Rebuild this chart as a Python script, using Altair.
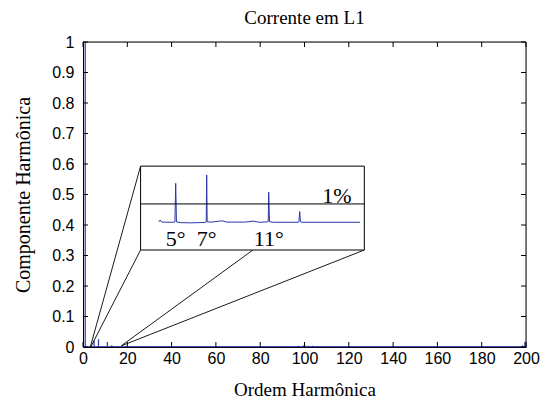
import altair as alt
import pandas as pd

# ---- data ----
# main spectrum: harmonic order and magnitude (per unit of fundamental)
spike_order = [1, 5, 7, 11, 13, 97.2, 99.5, 100.3, 101.8, 103.8, 105.5, 110, 198.5, 199.5]
spike_value = [1.0, 0.021, 0.0255, 0.0163, 0.0059, 0.004, 0.005, 0.005, 0.004, 0.004, 0.003, 0.002, 0.005, 0.017]
noise_floor = 0.0012

# inset (zoom of orders ~4..17)
inset_order = [3.9, 4.0, 4.1, 4.8, 4.95, 5.0, 5.05, 5.3, 6.0, 6.9, 6.97, 7.0, 7.03, 7.3, 8.0, 8.3,
               9.5, 10.0, 10.4, 10.9, 10.97, 11.0, 11.05, 11.3, 12.9, 12.95, 13.0, 13.05, 13.2, 16.9]
inset_value = [0.0004, 0.0014, 0.0003, 0.0002, 0.0004, 0.0210, 0.0004, 0.0, -0.0001, 0.0001, 0.0005, 0.0255, 0.0004, 0.0003, 0.0010, 0.0003,
               0.0003, 0.0008, 0.0002, 0.0004, 0.0006, 0.0163, 0.0005, 0.0002, 0.0002, 0.0005, 0.0059, 0.0004, 0.0002, 0.0002]
inset_labels = ["5°", "7°", "11°"]
inset_label_order = [5, 7, 11]
ref_level = 0.01

x_ticks = list(range(0, 201, 20))
y_ticks = [0, 0.1, 0.2, 0.3, 0.4, 0.5, 0.6, 0.7, 0.8, 0.9, 1.0]

BLUE = "#2a36a6"
SERIF = "Liberation Serif"
SANS = "Liberation Sans"

W, H = 443, 305

xs = alt.Scale(domain=[0, 200], nice=False, zero=False)
ys = alt.Scale(domain=[0, 1], nice=False)

AX = alt.Axis(values=x_ticks, ticks=False, grid=False, labelFont=SANS, labelFontSize=16,
              labelColor="black", labelPadding=3, labelOverlap=False, titleFont=SERIF,
              titleFontSize=19, titleFontWeight="normal", titleColor="black", titlePadding=14,
              domainColor="black", labelFlush=False, title="Ordem Harmônica")
AY = alt.Axis(values=y_ticks, ticks=False, grid=False, format="~g", labelFont=SANS,
              labelFontSize=16, labelColor="black", labelPadding=9, labelOverlap=False,
              titleFont=SERIF, titleFontSize=20, titleFontWeight="normal", titleColor="black",
              titlePadding=18, domainColor="black", title="Componente Harmônica")


def X(f):
    return alt.X(f, scale=xs, axis=AX)


def Y(f):
    return alt.Y(f, scale=ys, axis=AY)


spikes = pd.DataFrame({"h": spike_order, "v": spike_value})
stems = alt.Chart(spikes).mark_rule(color=BLUE, strokeWidth=1.2).encode(
    x=X("h:Q"), y=Y("v:Q"), y2=alt.Y2(datum=0))
floor = alt.Chart(pd.DataFrame({"a": [0], "b": [200], "v": [noise_floor]})).mark_rule(
    color=BLUE, strokeWidth=1).encode(x=X("a:Q"), x2="b:Q", y=Y("v:Q"))

# ticks on all four sides, pointing inward
xt = pd.DataFrame({"t": x_ticks})
yt = pd.DataFrame({"t": y_ticks})
tb = alt.Chart(xt).mark_rule(color="black", strokeWidth=1).encode(
    x=X("t:Q"), y=alt.value(H), y2=alt.value(H - 5))
tt = alt.Chart(xt).mark_rule(color="black", strokeWidth=1).encode(
    x=X("t:Q"), y=alt.value(0), y2=alt.value(5))
tl = alt.Chart(yt).mark_rule(color="black", strokeWidth=1).encode(
    y=Y("t:Q"), x=alt.value(0), x2=alt.value(5))
tr = alt.Chart(yt).mark_rule(color="black", strokeWidth=1).encode(
    y=Y("t:Q"), x=alt.value(W), x2=alt.value(W - 5))

# top and right edges of the frame
edge = pd.DataFrame({"a": [0, 200], "b": [200, 200], "c": [1, 0], "d": [1, 1]})
frame = alt.Chart(edge).mark_rule(color="black", strokeWidth=1).encode(
    x=X("a:Q"), x2="b:Q", y=Y("c:Q"), y2="d:Q")

# zoom box and connectors (main data units)
box_x = [26.0, 127.0]
box_y = [0.318, 0.593]
conn = pd.DataFrame({
    "x": [box_x[0], box_x[0], 76.7, box_x[1]],
    "y": [box_y[1], box_y[0], box_y[0], box_y[0]],
    "x2": [3.3, 3.5, 17.3, 17.4],
    "y2": [0.0, 0.0, 0.004, 0.004],
})
connectors = alt.Chart(conn).mark_rule(color="black", strokeWidth=0.9).encode(
    x=X("x:Q"), y=Y("y:Q"), x2="x2:Q", y2="y2:Q")
box = alt.Chart(pd.DataFrame({"x": [box_x[0]], "x2": [box_x[1]], "y": [box_y[0]], "y2": [box_y[1]]})
                ).mark_rect(fill="white", stroke="black", strokeWidth=1).encode(
    x=X("x:Q"), x2="x2:Q", y=Y("y:Q"), y2="y2:Q")

main = alt.layer(stems, floor, tb, tt, tl, tr, frame, connectors, box)

# inset with its own scales
ixs = alt.Scale(domain=[-0.98, 27.6], nice=False, zero=False)
iys = alt.Scale(domain=[-0.0665, 0.0966], nice=False, zero=False)
inset_line = alt.Chart(pd.DataFrame({"h": inset_order, "v": inset_value})).mark_line(
    color=BLUE, strokeWidth=1).encode(
    x=alt.X("h:Q", scale=ixs, axis=None), y=alt.Y("v:Q", scale=iys, axis=None), order="h:Q")
inset_ref = alt.Chart(pd.DataFrame({"a": [2.74], "b": [17.18], "v": [ref_level]})).mark_rule(
    color="black", strokeWidth=1).encode(
    x=alt.X("a:Q", scale=ixs, axis=None), x2="b:Q", y=alt.Y("v:Q", scale=iys, axis=None))
inset_text = alt.Chart(pd.DataFrame({"h": inset_label_order, "s": inset_labels, "v": [-0.0085] * 3})
                       ).mark_text(font=SERIF, fontSize=22, color="black").encode(
    x=alt.X("h:Q", scale=ixs, axis=None), y=alt.Y("v:Q", scale=iys, axis=None), text="s:N")
pct_text = alt.Chart(pd.DataFrame({"h": [15.4], "v": [0.0142], "s": ["1%"]})).mark_text(
    font=SERIF, fontSize=22, color="black").encode(
    x=alt.X("h:Q", scale=ixs, axis=None), y=alt.Y("v:Q", scale=iys, axis=None), text="s:N")
inset = alt.layer(inset_line, inset_ref, inset_text, pct_text)

chart = alt.layer(main, inset).resolve_scale(x="independent", y="independent").properties(
    width=W, height=H,
    title=alt.TitleParams("Corrente em L1", font=SERIF, fontSize=19, fontWeight="normal",
                          color="black", offset=6, anchor="middle"),
    padding={"left": 83, "top": 42, "right": 15, "bottom": 59},
    autosize="none",
).configure_view(stroke="black", strokeWidth=1).configure(background="white")

chart.save("out.html", embed_options={"renderer": "svg", "actions": False})
